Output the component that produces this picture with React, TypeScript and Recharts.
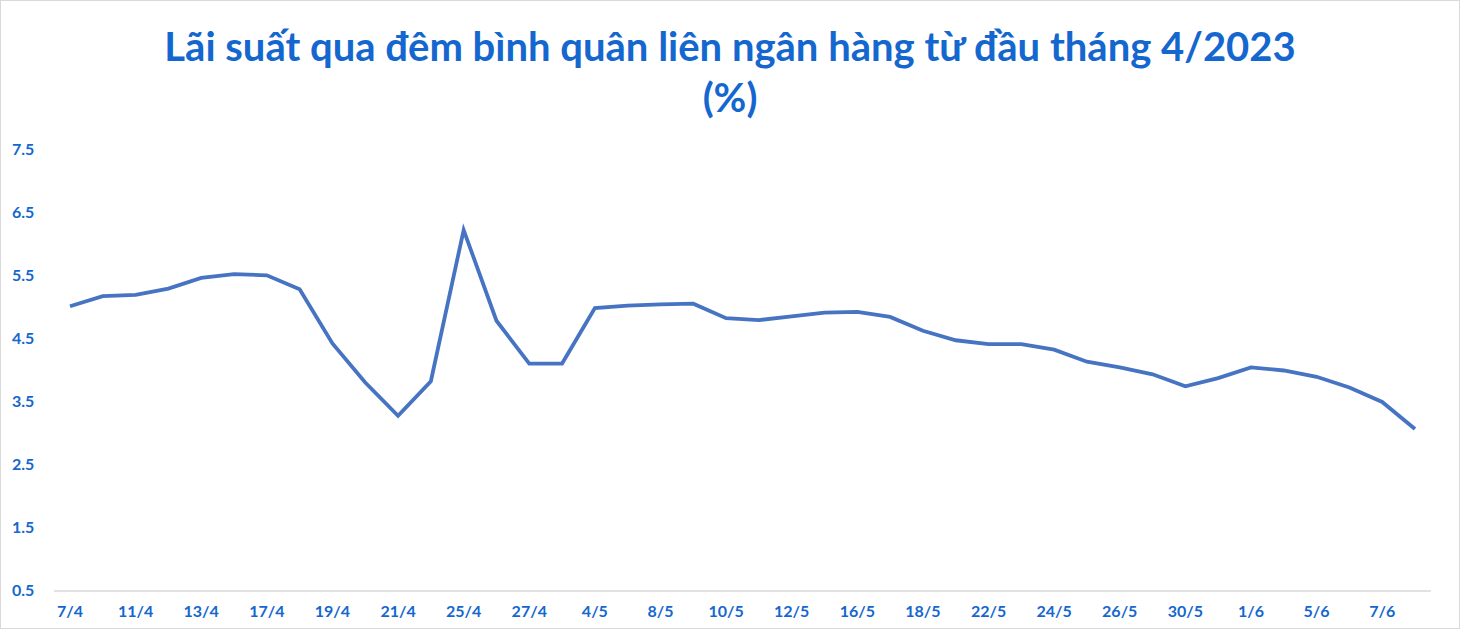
import React from 'react';
import { LineChart, Line, XAxis, YAxis } from 'recharts';

// ngày giao dịch
const dates = [
  '7/4', '10/4', '11/4', '12/4', '13/4', '14/4', '17/4', '18/4', '19/4', '20/4',
  '21/4', '24/4', '25/4', '26/4', '27/4', '28/4', '4/5', '5/5', '8/5', '9/5',
  '10/5', '11/5', '12/5', '15/5', '16/5', '17/5', '18/5', '19/5', '22/5', '23/5',
  '24/5', '25/5', '26/5', '29/5', '30/5', '31/5', '1/6', '2/6', '5/6', '6/6',
  '7/6', '8/6',
];

// lãi suất qua đêm (%)
const rates = [
  5.02, 5.18, 5.2, 5.3, 5.47, 5.53, 5.51, 5.29, 4.43, 3.81,
  3.28, 3.83, 6.23, 4.79, 4.11, 4.11, 4.99, 5.03, 5.05, 5.06,
  4.83, 4.8, 4.86, 4.92, 4.93, 4.85, 4.63, 4.48, 4.42, 4.42,
  4.33, 4.14, 4.05, 3.94, 3.75, 3.88, 4.05, 4.0, 3.9, 3.73,
  3.5, 3.07,
];

const yTicks = [0.5, 1.5, 2.5, 3.5, 4.5, 5.5, 6.5, 7.5];

const data = dates.map((d, i) => ({ date: d, rate: rates[i] }));

const BLUE = '#1467CE';
const FONT = 'Lato, "Liberation Sans", sans-serif';

const YTick = ({ y, payload }: any) => (
  <text x={12} y={y} dy={5} fill={BLUE} fontSize={16} fontWeight={700} fontFamily={FONT}>
    {payload.value.toFixed(1)}
  </text>
);

export default function App() {
  return (
    <div style={{ position: 'absolute', left: 0, top: 0, width: 1460, height: 629, background: '#fff', boxSizing: 'border-box', border: '1px solid #d9d9d9' }}>
      <div
        style={{
          position: 'absolute',
          top: 20,
          left: 0,
          width: 1458,
          textAlign: 'center',
          color: BLUE,
          fontFamily: FONT,
          fontWeight: 700,
          fontSize: 40,
          lineHeight: '51px',
        }}
      >
        <div>Lãi suất qua đêm bình quân liên ngân hàng từ đầu tháng 4/2023</div>
        <div>(%)</div>
      </div>
      <div style={{ position: 'absolute', left: -1, top: -1 }}>
        <LineChart width={1460} height={629} data={data} margin={{ top: 150, right: 29, bottom: 0, left: 0 }}>
          <XAxis
            dataKey="date"
            interval={1}
            tickLine={false}
            axisLine={{ stroke: '#d9d9d9', strokeWidth: 1.5 }}
            height={38}
            padding={{ left: 16, right: 16 }}
            tick={{ fill: BLUE, fontSize: 16, fontWeight: 700, fontFamily: FONT }}
            tickMargin={9}
          />
          <YAxis
            domain={[0.5, 7.5]}
            ticks={yTicks}
            width={54}
            axisLine={false}
            tickLine={false}
            tick={<YTick />}
          />
          <Line
            type="linear"
            dataKey="rate"
            stroke="#4674C2"
            strokeWidth={3.8}
            dot={false}
            isAnimationActive={false}
          />
        </LineChart>
      </div>
    </div>
  );
}
